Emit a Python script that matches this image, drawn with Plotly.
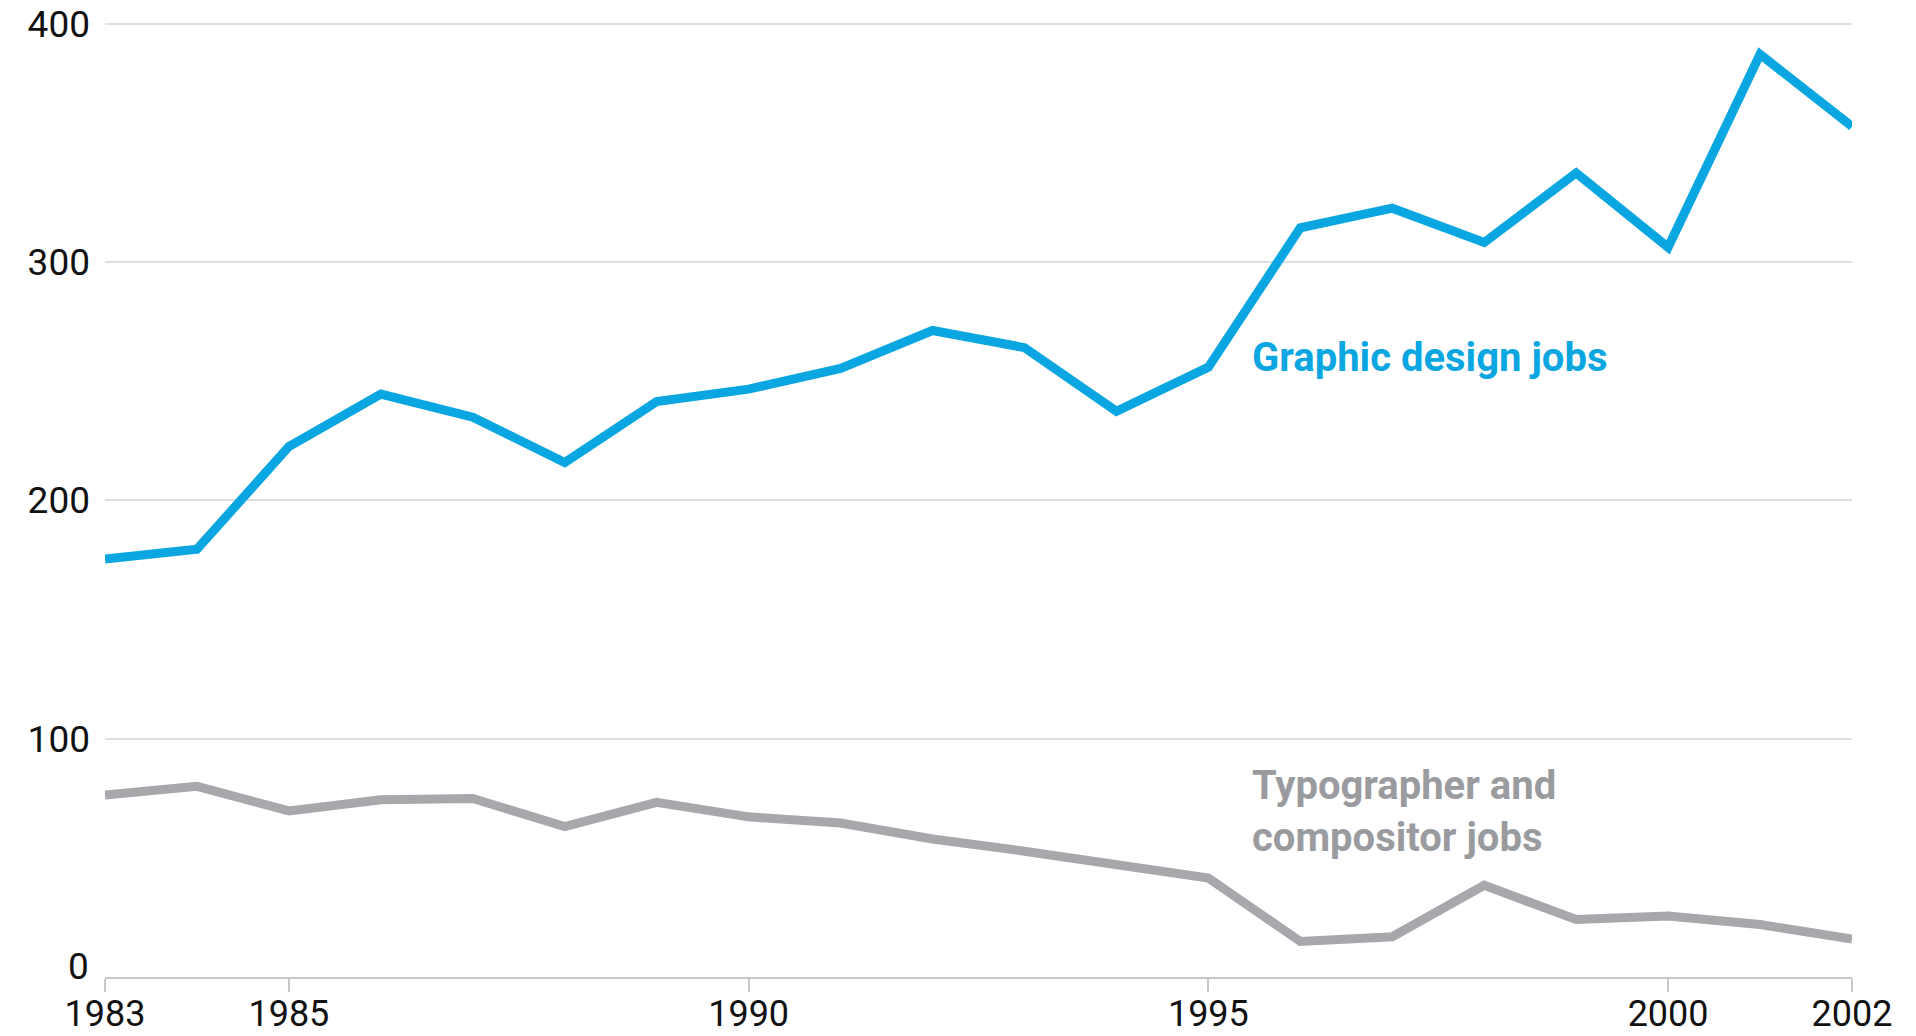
import plotly.graph_objects as go

years = list(range(1983, 2003))
graphic_design = [175.4, 179.5, 222.6, 244.6, 234.9, 215.9, 241.5, 246.7, 255.4, 271.3,
                  264.1, 237.4, 255.9, 314.4, 322.6, 308.2, 337.4, 306.2, 387.2, 356.9]
typographer = [76.4, 80.0, 69.7, 74.4, 74.9, 63.1, 73.3, 67.2, 64.6, 57.9,
               52.8, 47.2, 41.5, 14.9, 16.9, 38.5, 24.1, 25.6, 22.0, 15.9]
x_ticks = [1983, 1985, 1990, 1995, 2000, 2002]
y_ticks = [0, 100, 200, 300, 400]

BLUE = "#0aa6e1"
GRAY = "#a7a8ac"
FONT = "Roboto"
TICKFONT = dict(family=FONT, size=37, color="#111111")

fig = go.Figure()
fig.add_trace(go.Scatter(x=years, y=typographer, mode="lines",
                         line=dict(color=GRAY, width=9), hoverinfo="skip"))
fig.add_trace(go.Scatter(x=years, y=graphic_design, mode="lines",
                         line=dict(color=BLUE, width=9), hoverinfo="skip"))

fig.add_annotation(x=1995.45, y=260, xref="x", yref="y", xanchor="left", yanchor="middle",
                   text="<b>Graphic design jobs</b>", showarrow=False,
                   font=dict(family=FONT, size=40, color=BLUE))
fig.add_annotation(x=1995.45, y=69.4, xref="x", yref="y", xanchor="left", yanchor="middle",
                   text="<b>Typographer and<br>compositor jobs</b>", showarrow=False, align="left",
                   font=dict(family=FONT, size=40, color="#9a9b9f"))
# the zero label sits slightly above the baseline, as in the original
fig.add_annotation(x=0, y=y_ticks[0], xref="paper", yref="y", xanchor="right", yanchor="middle",
                   xshift=-14, yshift=11, text=str(y_ticks[0]), showarrow=False,
                   font=TICKFONT)

fig.update_layout(
    width=1916, height=1036,
    margin=dict(l=105, r=64, t=19, b=59, autoexpand=False),
    plot_bgcolor="white", paper_bgcolor="white",
    showlegend=False,
    font=dict(family=FONT, size=36, color="#111111"),
    xaxis=dict(range=[1983, 2002], tickmode="array", tickvals=x_ticks,
               ticktext=[str(v) for v in x_ticks], automargin=False,
               ticklabeloverflow="allow",
               showgrid=False, zeroline=False, showline=True, linecolor="#c6c7c9", linewidth=2,
               ticks="outside", ticklen=13, tickwidth=2, tickcolor="#c6c7c9",
               ticklabelstandoff=-9,
               tickfont=dict(family=FONT, size=36, color="#111111")),
    yaxis=dict(range=[0, 402], tickmode="array", tickvals=y_ticks,
               ticktext=["" if v == 0 else str(v) for v in y_ticks], automargin=False,
               ticklabeloverflow="allow",
               showgrid=True, gridcolor="#dedfe1", gridwidth=2, zeroline=False,
               showline=False, ticks="", ticklabelstandoff=14,
               tickfont=TICKFONT),
)

fig.write_html("out.html", config={"displayModeBar": False},
               post_script="document.body.style.margin='0';document.body.style.overflow='hidden';")
